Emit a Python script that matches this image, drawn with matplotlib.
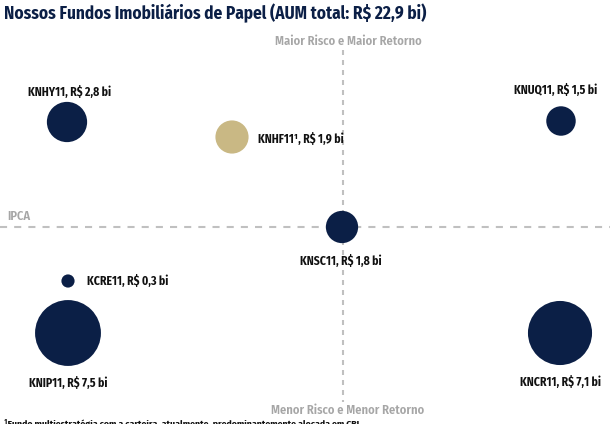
import matplotlib
matplotlib.use("Agg")
import matplotlib.pyplot as plt
from matplotlib import font_manager as fm

# ---- data ----
funds = ["KNHY11", "KNHF11", "KNUQ11", "KNSC11", "KCRE11", "KNIP11", "KNCR11"]
aum_bi = [2.8, 1.9, 1.5, 1.8, 0.3, 7.5, 7.1]
label_names = ["KNHY11", "KNHF11¹", "KNUQ11", "KNSC11", "KCRE11", "KNIP11", "KNCR11"]
# position on the risk/return matrix (pixel-like units)
risk_x = [67, 232, 561, 342, 68, 68, 560]
return_y = [122, 137, 121, 227, 281, 333, 333]

NAVY = "#0b1f46"
GOLD = "#c9b884"
GRAY = "#a6a6a6"
colors = [NAVY, GOLD, NAVY, NAVY, NAVY, NAVY, NAVY]
# label offsets from bubble centre in px (style), and alignment
label_dx = [3, 26, -5, -1, 19, 0, 0]
label_dy = [-30, 2, -31, 34, 0, 50, 49]
label_ha = ["center", "left", "center", "center", "left", "center", "center"]

available = {f.name for f in fm.fontManager.ttflist}
prefs = ["Fira Sans Condensed", "Roboto Condensed", "Barlow Semi Condensed",
         "PT Sans Narrow", "Liberation Sans Narrow", "Open Sans Condensed", "Roboto"]
chosen = next((p for p in prefs if p in available), "DejaVu Sans")
fam = [chosen, "DejaVu Sans"]

fig = plt.figure(figsize=(6.10, 4.24), dpi=100)
ax = fig.add_axes([0, 0, 1, 1])
ax.set_xlim(0, 610)
ax.set_ylim(424, 0)
ax.axis("off")

# quadrant lines
ax.plot([343, 343], [50, 402], color="#c0c0c0", lw=1.5, ls=(0, (2.4, 2.4)), zorder=1)
ax.plot([0, 610], [227, 227], color="#c0c0c0", lw=1.5, ls=(0, (3.4, 3.4)), zorder=1)

# bubbles (area proportional to AUM)
sizes = [300 * v for v in aum_bi]
ax.scatter(risk_x, return_y, s=sizes, c=colors, zorder=3, linewidths=0)

for name, v, x, y, dx, dy, ha in zip(label_names, aum_bi, risk_x, return_y,
                                     label_dx, label_dy, label_ha):
    txt = f"{name}, R$ {v:.1f} bi".replace(".", ",")
    ax.text(x + dx, y + dy, txt, ha=ha, va="center", fontsize=8.4,
            fontweight="bold", color="#111111", family=fam, zorder=4)

# title
ax.text(4, 13, "Nossos Fundos Imobiliários de Papel (AUM total: R$ 22,9 bi)",
        ha="left", va="center", fontsize=12.4, fontweight="bold", color=NAVY, family=fam)

# axis annotations
ax.text(348, 41, "Maior Risco e Maior Retorno", ha="center", va="center",
        fontsize=9, fontweight="semibold", color=GRAY, family=fam)
ax.text(348, 410, "Menor Risco e Menor Retorno", ha="center", va="center",
        fontsize=9, fontweight="semibold", color=GRAY, family=fam)
ax.text(7, 216, "IPCA", ha="left", va="center", fontsize=9,
        fontweight="semibold", color=GRAY, family=fam)

# footnote (partially cut at bottom like the reference)
ax.text(4, 419, "¹Fundo multiestratégia com a carteira, atualmente, predominantemente alocada em CRI",
        ha="left", va="top", fontsize=7, fontweight="bold", color="#111111", family=fam)

fig.savefig("out.png", dpi=100)
